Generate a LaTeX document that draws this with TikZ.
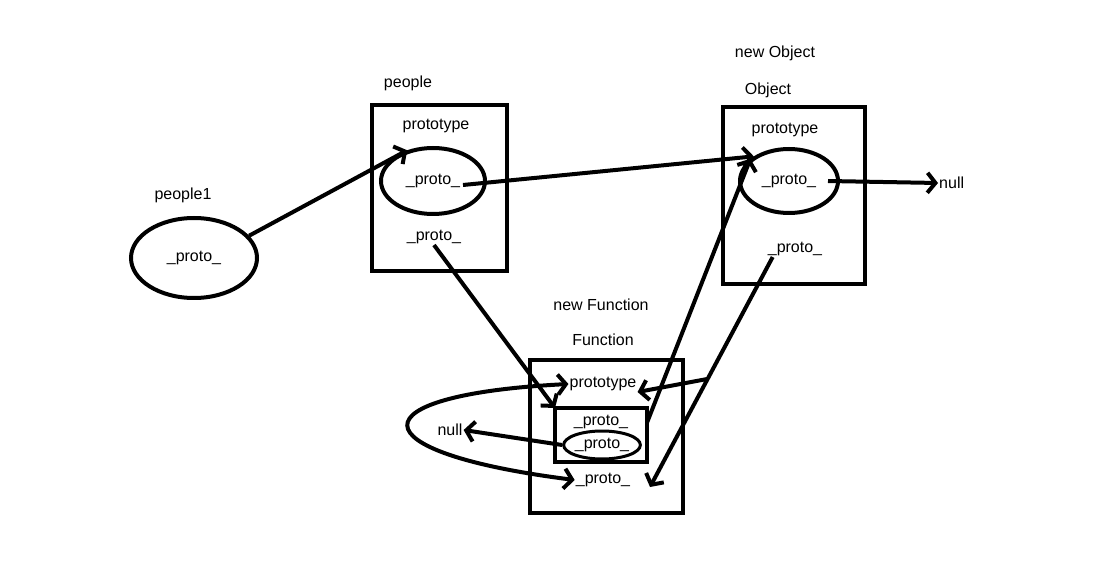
\documentclass[tikz,border=0pt]{standalone}
\usepackage{fontspec}
\setmainfont{Liberation Sans}
\usepackage{tikz}
\usetikzlibrary{arrows.meta,shapes.geometric}

\begin{document}
\begin{tikzpicture}[x=1pt, y=-1pt,
    every node/.style={font=\fontsize{16}{19}\selectfont, inner sep=1pt},
    box/.style={draw, line width=4pt, minimum width=#1, outer sep=0pt},
    ov/.style={draw, ellipse, line width=4pt, inner sep=0pt},
    arr/.style={line width=4pt, -{Straight Barb[length=8pt, width=20pt]}},
    darr/.style={line width=4pt, {Straight Barb[length=8pt, width=20pt]}-{Straight Barb[length=8pt, width=20pt]}}
  ]
  \useasboundingbox (0,0) rectangle (1112,588);

  % people1
  \node at (183,195) (t1) {people1};
  \node[ov, minimum width=126pt, minimum height=80pt] at (194,258) (p1) {\_proto\_};

  % people
  \node at (408,83) (tp) {people};
  \node[box=135pt, minimum height=166pt] at (439.5,188) (pbox) {};
  \node at (436,126) (pproto) {prototype};
  \node[ov, minimum width=104pt, minimum height=66pt] at (433,181) (pin) {\_proto\_};
  \node at (434,237) (plow) {\_proto\_};

  % Object
  \node at (775,53) (tno) {new Object};
  \node at (768,90) (to) {Object};
  \node[box=142pt, minimum height=177pt] at (794,195.5) (obox) {};
  \node at (785,130) (oproto) {prototype};
  \node[ov, minimum width=98pt, minimum height=64pt] at (789,181) (oin) {\_proto\_};
  \node at (795,249) (olow) {\_proto\_};
  \node[anchor=west] at (938,183) (onull) {null};

  % Function
  \node at (601,305) (tnf) {new Function};
  \node at (603,340) (tf) {Function};
  \node[box=153pt, minimum height=153pt] at (606.5,436.5) (fbox) {};
  \node at (603,384) (fproto) {prototype};
  \node[box=92pt, minimum height=54pt] at (601,435) (finbox) {};
  \node at (601,422) (fpro) {\_proto\_};
  \node[ov, line width=3pt, minimum width=64pt, minimum height=28pt] at (602,445) (fin) {\_proto\_};
  \node at (603,480) (flow) {\_proto\_};
  \node at (450,430) (fnull) {null};
  \coordinate (fend) at (650,487);

  % connectors
  \draw[arr] (p1.22) -- (pin.130);
  \draw[arr] (pin.east) ++(-24,4) -- (oin.145);
  \draw[arr] (oin.east) ++(-12,0) -- (onull.west);
  \draw[arr] (plow.south) -- (finbox.north west);
  \draw[arr] (finbox.15) -- (oin.150);
  \draw[arr] (olow.south west) ++(6,0) -- coordinate[pos=0.53] (br) (fend);
  \draw[arr] (br) -- (fproto.south east);
  \draw[arr] (fin.west) -- (fnull.east);
  \draw[darr] (fproto.west) .. controls (354,395) and (354,452) .. (flow.west);
\end{tikzpicture}
\end{document}
